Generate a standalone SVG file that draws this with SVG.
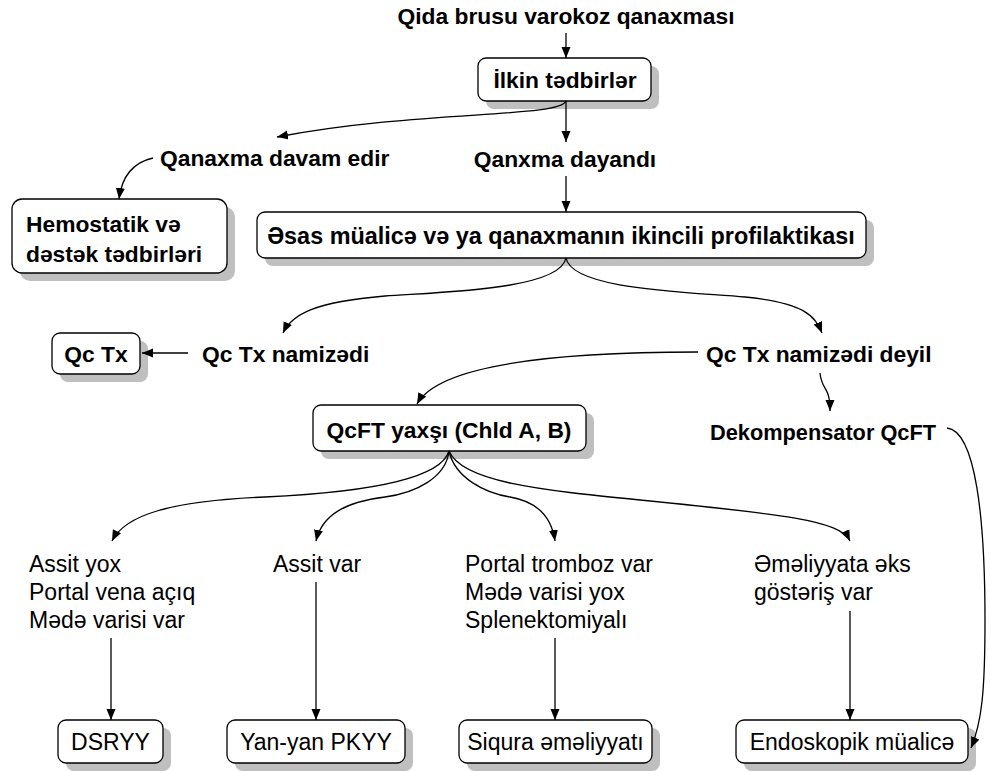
<svg xmlns="http://www.w3.org/2000/svg" width="991" height="771" viewBox="0 0 991 771">
  <style>
    .box { fill: #ffffff; stroke: #000000; stroke-width: 1.3; }
    .shadow { fill: #bfbfbf; }
    .b { font-family: "Liberation Sans", Arial, sans-serif; font-weight: bold; font-size: 22.8px; fill: #000; }
    .r { font-family: "Liberation Sans", Arial, sans-serif; font-size: 23px; fill: #000; }
    .c { text-anchor: middle; }
    .edge { fill: none; stroke: #000; stroke-width: 1.3; marker-end: url(#arrow); }
  </style>
  <defs>
    <marker id="arrow" markerUnits="userSpaceOnUse" markerWidth="12" markerHeight="10" refX="11" refY="4.5" orient="auto">
      <path d="M0,0 L11,4.5 L0,9 z" fill="#000"/>
    </marker>
  </defs>
  <rect width="991" height="771" fill="#ffffff"/>

  <!-- labels without boxes -->
  <g id="start"><text class="b c" x="566" y="24">Qida brusu varokoz qanaxması</text></g>
  <g id="stopped"><text class="b c" x="565" y="167">Qanxma dayandı</text></g>
  <g id="continues"><text class="b" x="160" y="166">Qanaxma davam edir</text></g>
  <g id="candidate"><text class="b" x="202" y="362">Qc Tx namizədi</text></g>
  <g id="not-candidate"><text class="b" x="706" y="362">Qc Tx namizədi deyil</text></g>
  <g id="decomp"><text class="b" x="710" y="440" textLength="226" lengthAdjust="spacingAndGlyphs">Dekompensator QcFT</text></g>

  <g id="cond1" class="r">
    <text x="29" y="572">Assit yox</text>
    <text x="29" y="600">Portal vena açıq</text>
    <text x="29" y="628">Mədə varisi var</text>
  </g>
  <g id="cond2" class="r"><text x="273" y="572">Assit var</text></g>
  <g id="cond3" class="r">
    <text x="465" y="572">Portal tromboz var</text>
    <text x="465" y="600">Mədə varisi yox</text>
    <text x="465" y="628">Splenektomiyalı</text>
  </g>
  <g id="cond4" class="r">
    <text x="754" y="572">Əməliyyata əks</text>
    <text x="754" y="600">göstəriş var</text>
  </g>

  <!-- boxed nodes -->
  <g id="initial">
    <rect class="shadow" x="486" y="66" width="173" height="43" rx="8"/>
    <rect class="box" x="478" y="58" width="173" height="43" rx="8"/>
    <text class="b c" x="565" y="88">İlkin tədbirlər</text>
  </g>
  <g id="hemostatic">
    <rect class="shadow" x="20" y="207" width="215" height="74" rx="10"/>
    <rect class="box" x="12" y="199" width="215" height="74" rx="10"/>
    <text class="b" x="26" y="232">Hemostatik və</text>
    <text class="b" x="26" y="262">dəstək tədbirləri</text>
  </g>
  <g id="main">
    <rect class="shadow" x="265" y="220" width="609" height="46" rx="8"/>
    <rect class="box" x="257" y="212" width="609" height="46" rx="8"/>
    <text class="b c" x="561" y="244" style="font-size:23.4px">Əsas müalicə və ya qanaxmanın ikincili profilaktikası</text>
  </g>
  <g id="qctx">
    <rect class="shadow" x="60" y="341" width="88" height="41" rx="8"/>
    <rect class="box" x="52" y="333" width="88" height="41" rx="8"/>
    <text class="b c" x="96" y="362">Qc Tx</text>
  </g>
  <g id="qcft-good">
    <rect class="shadow" x="321" y="413" width="273" height="46" rx="8"/>
    <rect class="box" x="313" y="405" width="273" height="46" rx="8"/>
    <text class="b c" x="449" y="438">QcFT yaxşı (Chld A, B)</text>
  </g>
  <g id="dsryy">
    <rect class="shadow" x="66" y="728" width="105" height="43" rx="8"/>
    <rect class="box" x="58" y="720" width="105" height="43" rx="8"/>
    <text class="r c" x="110.5" y="750">DSRYY</text>
  </g>
  <g id="pkyy">
    <rect class="shadow" x="235" y="728" width="178" height="43" rx="8"/>
    <rect class="box" x="227" y="720" width="178" height="43" rx="8"/>
    <text class="r c" x="316" y="750">Yan-yan PKYY</text>
  </g>
  <g id="siqura">
    <rect class="shadow" x="467" y="728" width="193" height="43" rx="8"/>
    <rect class="box" x="459" y="720" width="193" height="43" rx="8"/>
    <text class="r c" x="555.5" y="750">Siqura əməliyyatı</text>
  </g>
  <g id="endoscopic">
    <rect class="shadow" x="744" y="728" width="232" height="43" rx="8"/>
    <rect class="box" x="736" y="720" width="232" height="43" rx="8"/>
    <text class="r c" x="852" y="750">Endoskopik müalicə</text>
  </g>

  <!-- connectors -->
  <g id="connectors">
    <path class="edge" d="M566,33 L566,58"/>
    <path class="edge" d="M566,101 L566,142"/>
    <path class="edge" d="M566,101 C560,118 420,110 277,137"/>
    <path class="edge" d="M153,158 C135,162 122,175 119,199"/>
    <path class="edge" d="M566,176 L566,212"/>
    <path class="edge" d="M566,258 C560,290 440,292 385,296 C315,302 292,314 283,333"/>
    <path class="edge" d="M566,258 C572,290 690,292 745,297 C805,303 815,316 822,333"/>
    <path class="edge" d="M188,353 L142,353"/>
    <path class="edge" d="M698,352 C570,352 440,362 417,404"/>
    <path class="edge" d="M820,373 C822,392 830,385 830,411"/>
    <path class="edge" d="M947,428 C976,431 985,520 985,620 C985,690 982,722 971,748"/>
    <path class="edge" d="M449,451 C440,482 350,493 265,497 C170,501 125,515 112,541"/>
    <path class="edge" d="M449,451 C446,478 415,493 385,497 C345,502 322,515 316,541"/>
    <path class="edge" d="M449,451 C455,478 485,493 510,497 C540,502 552,520 555,541"/>
    <path class="edge" d="M449,451 C462,482 540,490 640,500 C780,514 840,520 850,541"/>
    <path class="edge" d="M111,638 L111,720"/>
    <path class="edge" d="M316,582 L316,720"/>
    <path class="edge" d="M555,638 L555,720"/>
    <path class="edge" d="M850,611 L850,720"/>
  </g>
</svg>
